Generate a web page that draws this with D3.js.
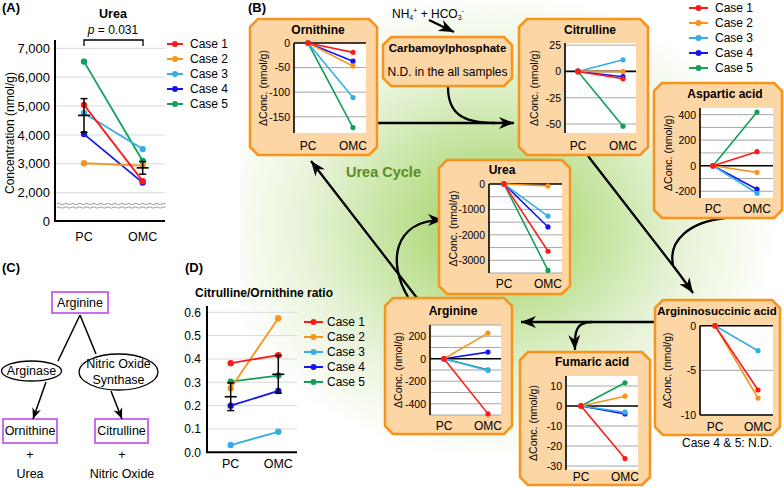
<!DOCTYPE html>
<html><head><meta charset="utf-8">
<script src="https://cdn.jsdelivr.net/npm/d3@7"></script>
<style>body{margin:0;background:#fff}svg{display:block;font-family:"Liberation Sans",Arial,sans-serif}</style>
</head><body><svg id="c" width="784" height="488"></svg>
<script>
// ---------------- DATA ----------------
const cases = ["Case 1", "Case 2", "Case 3", "Case 4", "Case 5"];
const caseColors = ["#ff1a1a", "#f7941d", "#35aee6", "#1515ee", "#11a05a"];
const groups = ["PC", "OMC"];

// Panel A: urea concentration (nmol/g)
const ureaPC = [5040, 3020, 4750, 4030, 6540];
const ureaOMC = [2400, 2940, 3510, 2350, 3100];
const ureaTicks = [0, 2000, 3000, 4000, 5000, 6000, 7000];
const ureaPValue = "0.031";

// Panel D: citrulline / ornithine ratio
const ratioPC = [0.382, 0.275, 0.031, 0.200, 0.303];
const ratioOMC = [0.416, 0.575, 0.088, 0.263, 0.329];
const ratioTicks = [0, 0.1, 0.2, 0.3, 0.4, 0.5, 0.6];

// Panel B: change in concentration (OMC - PC), nmol/g
const ornithineDelta = [-19, -47, -111, -37, -172];
const citrullineDelta = [-7, 0, 11, -5, -52];
const asparticDelta = [110, -52, -216, -184, 420];
const ureaDelta = [-2645, -80, -1260, -1690, -3400];
const arginineDelta = [-490, 228, -104, 59, -98];
const fumaricDelta = [-26.3, 4.9, -3.1, -4.0, 11.6];
const argininosuccinicDelta = [-7.2, -8.1, -2.8, null, null];

const ornithineTicks = [0, -50, -100, -150];
const citrullineTicks = [25, 0, -25, -50];
const asparticTicks = [400, 200, 0, -200];
const ureaDeltaTicks = [0, -1000, -2000, -3000];
const arginineTicks = [200, 0, -200, -400];
const fumaricTicks = [10, 0, -10, -20, -30];
const argininosuccinicTicks = [0, -5, -10];

const ornithineGrid = [-50, -100, -150];
const citrullineGrid = [25, -25, -50];
const asparticGrid = [400, 300, 200, 100, -100, -200];
const ureaDeltaGrid = [-500, -1000, -1500, -2000, -2500, -3000, -3500];
const arginineGrid = [300, 200, 100, -100, -200, -300, -400, -500];
const fumaricGrid = [10, -10, -20, -30];
const argininosuccinicGrid = [-5];

// ---------------- DRAWING ----------------
const FONT = '"Liberation Sans", Arial, sans-serif';
const svg = d3.select("#c");
const defs = svg.append("defs");
const boxFill = "#fdd6a6", boxStroke = "#f7941d";

function addText(parent, x, y, txt, o = {}) {
  const t = parent.append("text").attr("x", x).attr("y", y)
    .attr("dominant-baseline", "central")
    .attr("text-anchor", o.anchor || "middle")
    .attr("font-size", o.size || 12)
    .attr("font-weight", o.bold ? "bold" : "normal")
    .attr("fill", o.fill || "#000").text(txt);
  if (o.rotate) t.attr("transform", `rotate(-90,${x},${y})`);
  return t;
}
function chamfer([x0, y0, x1, y1], c = 8) {
  return `M${x0 + c},${y0}H${x1 - c}L${x1},${y0 + c}V${y1 - c}L${x1 - c},${y1}H${x0 + c}L${x0},${y1 - c}V${y0 + c}Z`;
}
function marker(id, w, h) {
  defs.append("marker").attr("id", id).attr("viewBox", `0 0 ${w} ${h}`)
    .attr("refX", w).attr("refY", h / 2).attr("markerWidth", w).attr("markerHeight", h)
    .attr("markerUnits", "userSpaceOnUse").attr("orient", "auto")
    .append("path").attr("d", `M0,0L${w},${h / 2}L0,${h}L${w * 0.3},${h / 2}Z`).attr("fill", "#000");
}
marker("arrB", 15, 12);
marker("arrC", 11, 9);

// background glow
const rg = defs.append("radialGradient").attr("id", "glow").attr("gradientUnits", "userSpaceOnUse")
  .attr("cx", 495).attr("cy", 225).attr("r", 235)
  .attr("gradientTransform", "translate(495,225) scale(1.2,1) translate(-495,-225)");
[[0, "#9ccb5a"], [0.3, "#bde092"], [0.65, "#e5f2d4"], [1, "#ffffff"]]
  .forEach(([o, c]) => rg.append("stop").attr("offset", o).attr("stop-color", c));
svg.append("rect").attr("x", 240).attr("y", 0).attr("width", 544).attr("height", 488).attr("fill", "url(#glow)");

function legend(x0, y0, len, textX) {
  const g = svg.append("g");
  cases.forEach((c, i) => {
    const y = y0 + i * 15;
    g.append("line").attr("x1", x0).attr("x2", x0 + len).attr("y1", y).attr("y2", y)
      .attr("stroke", caseColors[i]).attr("stroke-width", 2);
    g.append("circle").attr("cx", x0 + len / 2).attr("cy", y).attr("r", 3).attr("fill", caseColors[i]);
    addText(g, textX, y, c, { anchor: "start", size: 12 });
  });
}
function meanSem(arr) {
  const m = d3.mean(arr);
  return [m, d3.deviation(arr) / Math.sqrt(arr.length)];
}
function pairedPanel(g, x, y, pc, omc, dotR) {
  d3.range(cases.length).reverse().forEach(i => {
    g.append("line").attr("x1", x("PC")).attr("y1", y(pc[i])).attr("x2", x("OMC")).attr("y2", y(omc[i]))
      .attr("stroke", caseColors[i]).attr("stroke-width", 1.8);
    g.append("circle").attr("cx", x("PC")).attr("cy", y(pc[i])).attr("r", dotR).attr("fill", caseColors[i]);
    g.append("circle").attr("cx", x("OMC")).attr("cy", y(omc[i])).attr("r", dotR).attr("fill", caseColors[i]);
  });
  [["PC", pc], ["OMC", omc]].forEach(([k, arr]) => {
    const [m, s] = meanSem(arr);
    const cx = x(k);
    g.append("line").attr("x1", cx).attr("x2", cx).attr("y1", y(m - s)).attr("y2", y(m + s)).attr("stroke", "#000").attr("stroke-width", 1.5);
    [m - s, m + s].forEach(v => g.append("line").attr("x1", cx - 3.5).attr("x2", cx + 3.5).attr("y1", y(v)).attr("y2", y(v)).attr("stroke", "#000").attr("stroke-width", 1.5));
    g.append("line").attr("x1", cx - 6).attr("x2", cx + 6).attr("y1", y(m)).attr("y2", y(m)).attr("stroke", "#000").attr("stroke-width", 1.6);
  });
}
function styleAxis(g, size) {
  g.attr("font-size", size).attr("font-family", FONT);
  g.select(".domain").remove();
  g.selectAll("text").attr("fill", "#000");
}

// ---------- Panel A ----------
{
  const g = svg.append("g");
  addText(g, 2, 7, "(A)", { anchor: "start", bold: true, size: 13 });
  addText(g, 113, 14, "Urea", { bold: true, size: 12.5 });
  const p = g.append("text").attr("x", 113).attr("y", 30).attr("text-anchor", "middle")
    .attr("dominant-baseline", "central").attr("font-size", 12);
  p.append("tspan").attr("font-style", "italic").text("p");
  p.append("tspan").text(" = " + ureaPValue);
  g.append("path").attr("d", "M84,46V40H143V46").attr("fill", "none").attr("stroke", "#000").attr("stroke-width", 1.3);

  const x = d3.scalePoint().domain(groups).range([84, 142.7]);
  const y = d3.scaleLinear().domain([0, 2000, 7000]).range([221, 192.7, 48.3]);
  g.selectAll(null).data(ureaTicks.filter(d => d > 0)).join("line")
    .attr("x1", 55).attr("x2", 165).attr("y1", d => y(d)).attr("y2", d => y(d))
    .attr("stroke", "#dadada").attr("stroke-width", 1);
  [204, 207.5].forEach(yy => {
    let d = `M57,${yy}q1.75,-1.4 3.5,0`;
    for (let k = 0; k < 30; k++) d += "t3.5,0";
    g.append("path").attr("d", d).attr("fill", "none").attr("stroke", "#8a8a8a").attr("stroke-width", 0.9);
  });
  const ax = g.append("g").attr("transform", "translate(55,0)")
    .call(d3.axisLeft(y).tickValues(ureaTicks).tickFormat(d3.format(",")).tickSize(0).tickPadding(5));
  styleAxis(ax, 13);
  g.append("line").attr("x1", 55).attr("x2", 55).attr("y1", 40).attr("y2", 222).attr("stroke", "#000").attr("stroke-width", 2);
  g.append("line").attr("x1", 54).attr("x2", 165).attr("y1", 221).attr("y2", 221).attr("stroke", "#000").attr("stroke-width", 2);
  groups.forEach(k => addText(g, x(k), 237, k, { size: 12.5 }));
  addText(g, 10, 133, "Concentration (nmol/g)", { size: 12, rotate: true });
  pairedPanel(g, x, y, ureaPC, ureaOMC, 3.2);
  legend(167, 44, 16, 190);
}

// ---------- Panel D ----------
{
  const g = svg.append("g");
  addText(g, 185, 267, "(D)", { anchor: "start", bold: true, size: 13 });
  addText(g, 195, 293, "Citrulline/Ornithine ratio", { anchor: "start", bold: true, size: 12 });
  const x = d3.scalePoint().domain(groups).range([230.7, 278.3]);
  const y = d3.scaleLinear().domain([0, 0.63]).range([452.3, 305.3]);
  g.selectAll(null).data(ratioTicks.filter(d => d > 0)).join("line")
    .attr("x1", 207).attr("x2", 297).attr("y1", d => y(d)).attr("y2", d => y(d))
    .attr("stroke", "#dadada");
  const ax = g.append("g").attr("transform", "translate(207,0)")
    .call(d3.axisLeft(y).tickValues(ratioTicks).tickFormat(d3.format(".1f")).tickSize(0).tickPadding(6));
  styleAxis(ax, 12);
  g.append("line").attr("x1", 207).attr("x2", 207).attr("y1", 306).attr("y2", 453).attr("stroke", "#000").attr("stroke-width", 2);
  g.append("line").attr("x1", 206).attr("x2", 297).attr("y1", 452.3).attr("y2", 452.3).attr("stroke", "#000").attr("stroke-width", 2);
  groups.forEach(k => addText(g, x(k), 464, k, { size: 12.5 }));
  pairedPanel(g, x, y, ratioPC, ratioOMC, 3.2);
  legend(304, 322, 19, 327);
}

// ---------- Panel C ----------
{
  const g = svg.append("g");
  const purple = "#c86cf2";
  addText(g, 2, 267, "(C)", { anchor: "start", bold: true, size: 13 });
  const boxes = [[52, 292, 108, 313, "Arginine"], [3, 419, 57, 443, "Ornithine"], [95, 419, 148, 443, "Citrulline"]];
  boxes.forEach(([x0, y0, x1, y1, t]) => {
    g.append("rect").attr("x", x0).attr("y", y0).attr("width", x1 - x0).attr("height", y1 - y0)
      .attr("fill", "#fff").attr("stroke", purple).attr("stroke-width", 2);
    addText(g, (x0 + x1) / 2, (y0 + y1) / 2, t, { size: 12.5 });
  });
  ["M80,315L58,361", "M80,315L96,354"].forEach(d => g.append("path").attr("d", d).attr("stroke", "#000").attr("stroke-width", 1.5));
  ["M46,382L33,419", "M111,391L122,419"].forEach(d => g.append("path").attr("d", d).attr("stroke", "#000").attr("stroke-width", 1.5).attr("marker-end", "url(#arrC)"));
  g.append("ellipse").attr("cx", 31.5).attr("cy", 371).attr("rx", 30).ry = null;
  g.select("ellipse").attr("ry", 10).attr("fill", "#fff").attr("stroke", "#000").attr("stroke-width", 1.3);
  g.append("ellipse").attr("cx", 118.5).attr("cy", 372).attr("rx", 39.5).attr("ry", 18)
    .attr("fill", "#fff").attr("stroke", "#000").attr("stroke-width", 1.3);
  addText(g, 31.5, 371, "Arginase", { size: 12.5 });
  addText(g, 118.5, 364, "Nitric Oxide", { size: 12.5 });
  addText(g, 118.5, 379.5, "Synthase", { size: 12.5 });
  addText(g, 30, 455, "+", { size: 12.5 });
  addText(g, 122, 455, "+", { size: 12.5 });
  addText(g, 30, 473.5, "Urea", { size: 12.5 });
  addText(g, 122, 473.5, "Nitric Oxide", { size: 12.5 });
}

// ---------- Panel B ----------
addText(svg, 248, 7, "(B)", { anchor: "start", bold: true, size: 13 });
const bArrows = [
  { d: "M377,123H514", head: true },
  { d: "M448,87C448,113 462,123 495,123", head: false },
  { d: "M588,156L671,263Q684,280 693,293", head: true },
  { d: "M725,218C690,222 668,240 673,265", head: false },
  { d: "M655,322H521", head: true },
  { d: "M592,322C577,322 574,330 575,350", head: true },
  { d: "M417,298L311,161", head: true },
  { d: "M408,297C388,264 392,220 443,220", head: true },
  { d: "M429,20L454,32", head: true }
];
bArrows.forEach(a => {
  const p = svg.append("path").attr("d", a.d).attr("fill", "none").attr("stroke", "#000").attr("stroke-width", 2.3);
  if (a.head) p.attr("marker-end", "url(#arrB)");
});
{
  const t = svg.append("text").attr("x", 392).attr("y", 14).attr("dominant-baseline", "central").attr("font-size", 12);
  t.append("tspan").text("NH");
  t.append("tspan").attr("font-size", 7).attr("dy", 3).text("4");
  t.append("tspan").attr("font-size", 7).attr("dy", -7).text("+");
  t.append("tspan").attr("dy", 4).text(" + HCO");
  t.append("tspan").attr("font-size", 7).attr("dy", 3).text("3");
  t.append("tspan").attr("font-size", 7).attr("dy", -7).text("-");
}
svg.append("text").attr("x", 346).attr("y", 172).attr("dominant-baseline", "central")
  .attr("font-size", 14.5).attr("font-weight", "bold").attr("fill", "#5b8c25").text("Urea Cycle");

// carbamoylphosphate box
svg.append("path").attr("d", chamfer([383, 37, 512, 86])).attr("fill", boxFill).attr("stroke", boxStroke).attr("stroke-width", 2.5);
addText(svg, 447.5, 47.5, "Carbamoylphosphate", { bold: true, size: 11.5 });
addText(svg, 447.5, 72, "N.D. in the all samples", { size: 12 });

function mini(L, title, values) {
  const g = svg.append("g");
  g.append("path").attr("d", chamfer(L.box)).attr("fill", boxFill).attr("stroke", boxStroke)
    .attr("stroke-width", 2.5).attr("stroke-linejoin", "round");
  addText(g, L.titleX, L.titleY, title, { bold: true, size: L.titleSize || 12 });
  const [px0, py0, px1, py1] = L.plot;
  const y = d3.scaleLinear().domain(L.domain).range([py1, py0]);
  const x = d3.scalePoint().domain(groups).range([L.pc, L.omc]);
  g.append("rect").attr("x", px0).attr("y", py0).attr("width", px1 - px0).attr("height", py1 - py0).attr("fill", "#fff");
  g.selectAll(null).data(L.grid).join("line").attr("x1", px0).attr("x2", px1)
    .attr("y1", d => y(d)).attr("y2", d => y(d)).attr("stroke", "#a6a6a6").attr("stroke-width", 1);
  if (L.bottomAxis) g.append("line").attr("x1", px0).attr("x2", px1).attr("y1", py1).attr("y2", py1).attr("stroke", "#000").attr("stroke-width", 1.5);
  g.append("line").attr("x1", px0).attr("x2", px1).attr("y1", y(0)).attr("y2", y(0)).attr("stroke", "#000").attr("stroke-width", 1.6);
  const ax = g.append("g").attr("transform", `translate(${px0},0)`)
    .call(d3.axisLeft(y).tickValues(L.ticks).tickFormat(d => String(d)).tickSize(0).tickPadding(4));
  styleAxis(ax, 10.5);
  g.append("line").attr("x1", px0).attr("x2", px0).attr("y1", py0).attr("y2", py1).attr("stroke", "#000").attr("stroke-width", 1.6);
  groups.forEach(k => addText(g, x(k), L.labelY, k, { size: 12 }));
  addText(g, L.ylabX, (py0 + py1) / 2, "\u0394Conc. (nmol/g)", { size: 10.5, rotate: true });
  d3.range(cases.length).reverse().forEach(i => {
    if (values[i] == null) return;
    g.append("line").attr("x1", x("PC")).attr("y1", y(0)).attr("x2", x("OMC")).attr("y2", y(values[i]))
      .attr("stroke", caseColors[i]).attr("stroke-width", 1.6);
    g.append("circle").attr("cx", x("OMC")).attr("cy", y(values[i])).attr("r", 2.6).attr("fill", caseColors[i]);
    g.append("circle").attr("cx", x("PC")).attr("cy", y(0)).attr("r", 2.8).attr("fill", caseColors[i]);
  });
}

mini({ box: [250, 19, 377, 155], plot: [294, 43, 366, 133], domain: [-183, 0], ticks: ornithineTicks, grid: ornithineGrid, pc: 308, omc: 353, titleX: 318, titleY: 30, labelY: 146, ylabX: 263 }, "Ornithine", ornithineDelta);
mini({ box: [519, 19, 648, 155], plot: [565, 43, 636, 133], domain: [-58.5, 27], ticks: citrullineTicks, grid: citrullineGrid, pc: 578, omc: 623, titleX: 590, titleY: 30, labelY: 146, ylabX: 534 }, "Citrulline", citrullineDelta);
mini({ box: [654, 83, 782, 218], plot: [700, 108, 773, 198], domain: [-253, 452], ticks: asparticTicks, grid: asparticGrid, pc: 713, omc: 757, titleX: 725, titleY: 94, labelY: 209, ylabX: 668 }, "Aspartic acid", asparticDelta);
mini({ box: [439, 160, 570, 294], plot: [489, 184, 562, 273], domain: [-3500, 0], ticks: ureaDeltaTicks, grid: ureaDeltaGrid, pc: 504, omc: 548, titleX: 502, titleY: 170, labelY: 284, ylabX: 453 }, "Urea", ureaDelta);
mini({ box: [385, 298, 512, 434], plot: [430, 325, 501, 415], domain: [-500, 300], ticks: arginineTicks, grid: arginineGrid, pc: 444, omc: 488, titleX: 453, titleY: 310.5, labelY: 426, ylabX: 398 }, "Arginine", arginineDelta);
mini({ box: [520, 352, 650, 485], plot: [566, 376, 638, 470], domain: [-32, 15], ticks: fumaricTicks, grid: fumaricGrid, pc: 581, omc: 625, titleX: 592, titleY: 362, labelY: 477, ylabX: 533 }, "Fumaric acid", fumaricDelta);
mini({ box: [655, 300, 780, 435], plot: [700, 325.7, 773, 415], domain: [-10, 0], ticks: argininosuccinicTicks, grid: argininosuccinicGrid, bottomAxis: true, pc: 715, omc: 758, titleX: 717, titleY: 311, titleSize: 11.5, labelY: 427, ylabX: 667 }, "Argininosuccinic acid", argininosuccinicDelta);
addText(svg, 727, 443, "Case 4 & 5: N.D.", { size: 12 });

legend(689, 8, 19, 715);
</script></body></html>
